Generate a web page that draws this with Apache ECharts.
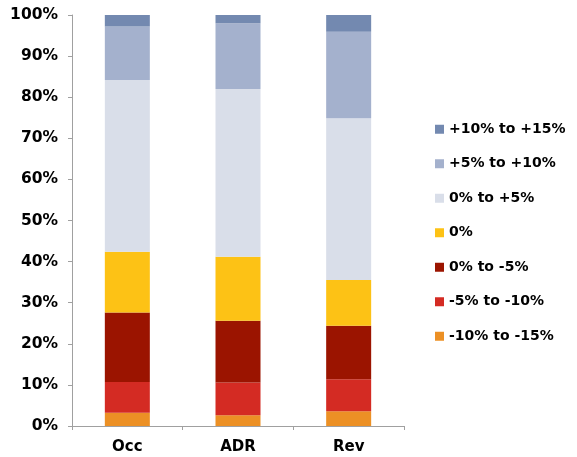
<!DOCTYPE html>
<html>
<head>
<meta charset="utf-8">
<style>
  html, body { margin: 0; padding: 0; background: #fff; }
  #chart { width: 577px; height: 457px; }
</style>
<script src="https://cdn.jsdelivr.net/npm/echarts@6/dist/echarts.min.js"></script>
</head>
<body>
<div id="chart"></div>
<script>
// categories along x
var categories = ['Occ', 'ADR', 'Rev'];

// series, from bottom of the stack to the top
var seriesNames = ['-10% to -15%', '-5% to -10%', '0% to -5%', '0%', '0% to +5%', '+5% to +10%', '+10% to +15%'];
var seriesColors = ['#ec9025', '#d42b23', '#9b1400', '#fdc215', '#d9dee9', '#a4b1cd', '#7389b0'];

// share of each bucket per category (percent)
var minus10to15 = [3.2, 2.6, 3.6];
var minus5to10 = [7.5, 8.0, 7.8];
var zeroToMinus5 = [16.9, 15.0, 13.0];
var zeroPct = [14.8, 15.6, 11.1];
var zeroToPlus5 = [41.8, 40.8, 39.4];
var plus5to10 = [13.0, 16.0, 21.0];
var plus10to15 = [2.8, 2.0, 4.1];

var seriesValues = [minus10to15, minus5to10, zeroToMinus5, zeroPct, zeroToPlus5, plus5to10, plus10to15];

var chart = echarts.init(document.getElementById('chart'));

var series = seriesNames.map(function (name, i) {
    return {
        name: name,
        type: 'bar',
        stack: 'total',
        barWidth: 45,
        itemStyle: { color: seriesColors[i] },
        data: seriesValues[i]
    };
});

var option = {
    animation: false,
    textStyle: { fontFamily: 'DejaVu Sans' },
    grid: { left: 72, right: 173, top: 15, bottom: 31 },
    legend: {
        orient: 'vertical',
        left: 430,
        top: 116,
        icon: 'rect',
        itemWidth: 9,
        itemHeight: 9,
        itemGap: 18,
        // top of the stack first
        data: seriesNames.slice().reverse(),
        textStyle: { fontSize: 14, fontWeight: 'bold', color: '#000', lineHeight: 16.5, padding: [0, 0, 0, 0] }
    },
    xAxis: {
        type: 'category',
        data: categories,
        axisLine: { lineStyle: { color: '#a0a0a0', width: 1 } },
        axisTick: { show: true, length: 4, lineStyle: { color: '#a0a0a0' } },
        axisLabel: { fontSize: 15, fontWeight: 'bold', color: '#000', margin: 14 }
    },
    yAxis: {
        type: 'value',
        min: 0,
        max: 100,
        interval: 10,
        splitLine: { show: false },
        axisLine: { show: true, lineStyle: { color: '#a0a0a0', width: 1 } },
        axisTick: { show: true, length: 4, lineStyle: { color: '#a0a0a0' } },
        axisLabel: { fontSize: 15.5, fontWeight: 'bold', color: '#000', margin: 14, formatter: '{value}%' }
    },
    series: series
};

chart.setOption(option);
</script>
</body>
</html>
